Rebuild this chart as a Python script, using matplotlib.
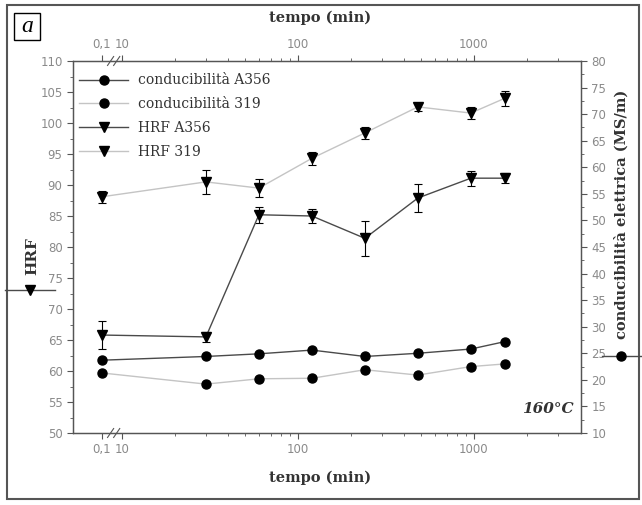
import numpy as np
import matplotlib
matplotlib.use("Agg")
import matplotlib.pyplot as plt
from matplotlib.lines import Line2D
from matplotlib.patches import Rectangle

# ---- data ----
tempo = [0.1, 30, 60, 120, 240, 480, 960, 1500]
hrf_a356 = [65.8, 65.5, 85.2, 85.0, 81.4, 87.9, 91.1, 91.1]
hrf_a356_err = [2.3, 0.8, 1.3, 1.2, 2.8, 2.3, 1.2, 0.8]
hrf_319 = [88.1, 90.5, 89.5, 94.3, 98.4, 102.6, 101.6, 104.0]
hrf_319_err = [1.0, 2.0, 1.5, 1.0, 1.0, 0.7, 1.0, 1.2]
cond_a356 = [23.7, 24.4, 24.9, 25.6, 24.4, 25.0, 25.8, 27.2]
cond_319 = [21.3, 19.2, 20.2, 20.3, 21.9, 20.9, 22.5, 23.0]

xticks = [0.1, 10, 100, 1000]
xticklabels = ["0,1", "10", "100", "1000"]

SERIF = ["DejaVu Serif"]
SANS = ["DejaVu Sans"]
K = 0.057

def fwd(x):
    x = np.asarray(x, dtype=float)
    with np.errstate(divide="ignore", invalid="ignore"):
        lx = np.log10(np.clip(x, 1e-300, None))
    return np.where(lx >= 1, lx, 1 + K * (lx - 1))

def inv(y):
    y = np.asarray(y, dtype=float)
    return np.where(y >= 1, 10 ** y, 10 ** (1 + (y - 1) / K))

fig = plt.figure(figsize=(6.42, 5.05), dpi=100)
ax = fig.add_axes([73/642, 1-433/505, (581-73)/642, (433-61)/505])
ax.set_xscale("function", functions=(fwd, inv))
ax.set_xlim(inv(0.722), inv(3.608))
ax.set_ylim(50, 110)

dark = "#4a4a4a"
light = "#c4c4c4"
txt = "#333333"

ax2 = ax.twinx()
ax2.set_ylim(10, 80)

# HRF series
ax.errorbar(tempo, hrf_319, yerr=hrf_319_err, color=light, lw=1.0, marker="v",
            ms=7, mfc="black", mec="black", ecolor="black", elinewidth=0.8,
            capsize=3, capthick=0.8, zorder=3)
ax.errorbar(tempo, hrf_a356, yerr=hrf_a356_err, color=dark, lw=1.0, marker="v",
            ms=7, mfc="black", mec="black", ecolor="black", elinewidth=0.8,
            capsize=3, capthick=0.8, zorder=4)
# conductivity
ax2.plot(tempo, cond_319, color=light, lw=1.0, marker="o", ms=6.5,
         mfc="black", mec="black")
ax2.plot(tempo, cond_a356, color=dark, lw=1.0, marker="o", ms=6.5,
         mfc="black", mec="black")

for a in (ax, ax2):
    for s in a.spines.values():
        s.set_color("#555555")
        s.set_linewidth(0.9)

ax.set_xticks(xticks)
ax.set_xticklabels(xticklabels)
minor = [v * d for d in (10, 100, 1000) for v in range(2, 10) if v * d < 4000]
ax.set_xticks(minor, minor=True)
ax.xaxis.set_minor_formatter(plt.NullFormatter())
ax.tick_params(axis="x", which="both", top=True, labeltop=True, direction="out",
               colors="#555555", labelcolor="#8a8a8a", labelsize=8.5, pad=3)
ax.tick_params(axis="x", which="major", length=4)
ax.tick_params(axis="x", which="minor", length=2.5)
ax.set_yticks(np.arange(50, 111, 5))
ax.set_yticks(np.arange(50, 111, 2.5), minor=True)
ax.tick_params(axis="y", which="both", direction="out", colors="#555555",
               labelcolor="#8a8a8a", labelsize=8.5)
ax.tick_params(axis="y", which="major", length=4)
ax.tick_params(axis="y", which="minor", length=2.5)
ax2.set_yticks(np.arange(10, 81, 5))
ax2.set_yticks(np.arange(10, 81, 2.5), minor=True)
ax2.tick_params(axis="y", which="both", direction="out", colors="#555555",
                labelcolor="#8a8a8a", labelsize=8.5)
ax2.tick_params(axis="y", which="major", length=4)
ax2.tick_params(axis="y", which="minor", length=2.5)
for lab in ax.get_xticklabels() + ax.get_yticklabels() + ax2.get_yticklabels():
    lab.set_family(SANS)

# break marks
for yy in (0, 1):
    for xx in (0.074, 0.086):
        ax.plot([xx - 0.006, xx + 0.006], [yy - 0.012, yy + 0.012],
                transform=ax.transAxes, color="#555555", lw=0.8, clip_on=False)

# legend
handles = [
    Line2D([], [], color=dark, lw=1.0, marker="o", ms=6.5, mfc="black", mec="black"),
    Line2D([], [], color=light, lw=1.0, marker="o", ms=6.5, mfc="black", mec="black"),
    Line2D([], [], color=dark, lw=1.0, marker="v", ms=7, mfc="black", mec="black"),
    Line2D([], [], color=light, lw=1.0, marker="v", ms=7, mfc="black", mec="black"),
]
labels = ["conducibilità A356", "conducibilità 319", "HRF A356", "HRF 319"]
leg = ax.legend(handles, labels, loc="upper left", bbox_to_anchor=(-0.012, 1.0),
                frameon=False, prop={"family": SERIF, "size": 10},
                handlelength=3.5, handletextpad=0.7, labelspacing=0.7)
for t in leg.get_texts():
    t.set_color(txt)

ax.text(0.985, 0.065, "160°C", transform=ax.transAxes, ha="right", va="center",
        family=SERIF, fontsize=11, fontweight="bold", style="italic", color=txt)

# axis labels
fig.text(320/642, 1-18/505, "tempo (min)", ha="center", va="center",
         family=SERIF, fontsize=10.5, fontweight="bold", color=txt)
fig.text(320/642, 1-478/505, "tempo (min)", ha="center", va="center",
         family=SERIF, fontsize=10.5, fontweight="bold", color=txt)
fig.text(32/642, 1-256/505, "HRF", rotation=90, ha="center", va="center",
         family=SERIF, fontsize=11, fontweight="bold", color=txt)
fig.add_artist(Line2D([5/642, 55/642], [1-290/505, 1-290/505], color=dark, lw=1.0,
                      transform=fig.transFigure))
fig.add_artist(Line2D([30/642], [1-290/505], color="black", marker="v", ms=7,
                      transform=fig.transFigure))
fig.text(621/642, 1-214/505, "conducibilità elettrica (MS/m)", rotation=90,
         ha="center", va="center", family=SERIF, fontsize=10.5, fontweight="bold",
         color=txt)
fig.add_artist(Line2D([602/642, 642/642], [1-356/505, 1-356/505], color=dark, lw=1.0,
                      transform=fig.transFigure))
fig.add_artist(Line2D([621/642], [1-356/505], color="black", marker="o", ms=6.5,
                      transform=fig.transFigure))

# "a" box
fig.add_artist(Rectangle((14/642, 1-40/505), 26/642, 27/505, fill=False,
                         ec="black", lw=1.0, transform=fig.transFigure))
fig.text(27/642, 1-27/505, "a", ha="center", va="center", family=["Liberation Serif"],
         fontsize=17, style="italic", color="black")

# outer frame
fig.add_artist(Rectangle((7/642, 1-499/505), 632/642, 494/505, fill=False,
                         ec="#555555", lw=1.5, transform=fig.transFigure))

fig.savefig("out.png", dpi=100)
